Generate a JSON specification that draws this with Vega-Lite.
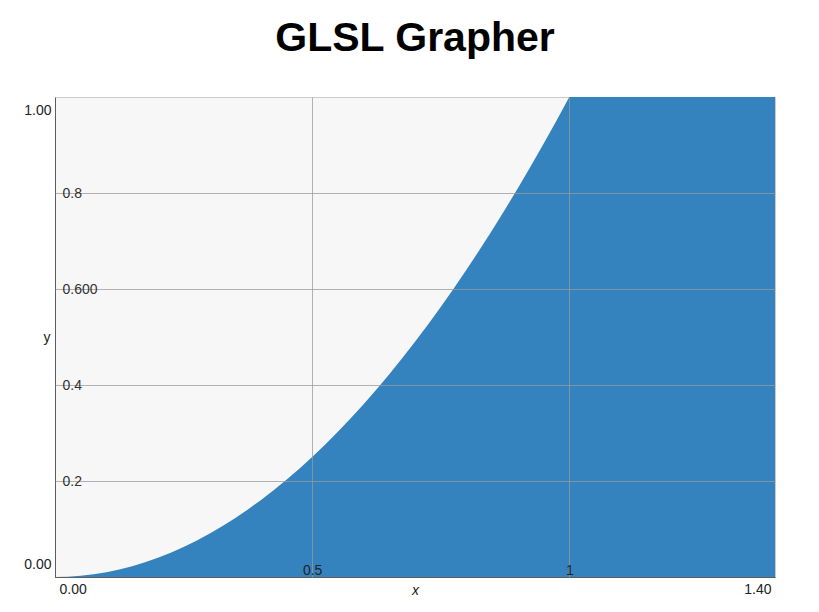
{
  "$schema": "https://vega.github.io/schema/vega-lite/v6.json",
  "autosize": "none",
  "padding": {"left": 55, "top": 97, "right": 44, "bottom": 35},
  "width": 720,
  "height": 480,
  "background": "#ffffff",
  "title": {
    "text": "GLSL Grapher",
    "font": "Liberation Sans",
    "fontSize": 41,
    "fontWeight": "bold",
    "color": "#000000",
    "anchor": "middle",
    "baseline": "alphabetic",
    "offset": 5
  },
  "config": {
    "view": {"fill": "#f7f7f7", "stroke": "#cccccc", "strokeWidth": 1},
    "axis": {
      "zindex": 1,
      "labelFont": "Liberation Sans",
      "titleFont": "Liberation Sans",
      "labelFontSize": 14,
      "titleFontSize": 14,
      "titleFontWeight": "normal",
      "titleColor": "#222222",
      "ticks": false,
      "tickSize": 0,
      "domainColor": "#000000",
      "domainOpacity": 0.55,
      "gridColor": "#999999",
      "gridOpacity": 0.75,
      "gridWidth": 1
    }
  },
  "data": {
    "values": [
      {"x": 0, "y": 0},
      {"x": 0.025, "y": 0.000625},
      {"x": 0.05, "y": 0.0025},
      {"x": 0.075, "y": 0.005625},
      {"x": 0.1, "y": 0.01},
      {"x": 0.125, "y": 0.015625},
      {"x": 0.15, "y": 0.0225},
      {"x": 0.175, "y": 0.030625},
      {"x": 0.2, "y": 0.04},
      {"x": 0.225, "y": 0.050625},
      {"x": 0.25, "y": 0.0625},
      {"x": 0.275, "y": 0.075625},
      {"x": 0.3, "y": 0.09},
      {"x": 0.325, "y": 0.105625},
      {"x": 0.35, "y": 0.1225},
      {"x": 0.375, "y": 0.140625},
      {"x": 0.4, "y": 0.16},
      {"x": 0.425, "y": 0.180625},
      {"x": 0.45, "y": 0.2025},
      {"x": 0.475, "y": 0.225625},
      {"x": 0.5, "y": 0.25},
      {"x": 0.525, "y": 0.275625},
      {"x": 0.55, "y": 0.3025},
      {"x": 0.575, "y": 0.330625},
      {"x": 0.6, "y": 0.36},
      {"x": 0.625, "y": 0.390625},
      {"x": 0.65, "y": 0.4225},
      {"x": 0.675, "y": 0.455625},
      {"x": 0.7, "y": 0.49},
      {"x": 0.725, "y": 0.525625},
      {"x": 0.75, "y": 0.5625},
      {"x": 0.775, "y": 0.600625},
      {"x": 0.8, "y": 0.64},
      {"x": 0.825, "y": 0.680625},
      {"x": 0.85, "y": 0.7225},
      {"x": 0.875, "y": 0.765625},
      {"x": 0.9, "y": 0.81},
      {"x": 0.925, "y": 0.855625},
      {"x": 0.95, "y": 0.9025},
      {"x": 0.975, "y": 0.950625},
      {"x": 1.0, "y": 1},
      {"x": 1.4, "y": 1}
    ]
  },
  "layer": [
    {
      "mark": {"type": "area", "color": "#3483be", "interpolate": "linear", "clip": true},
      "encoding": {
        "x": {
          "field": "x", "type": "quantitative",
          "scale": {"domain": [0, 1.4], "nice": false, "zero": false},
          "axis": {
            "orient": "bottom",
            "zindex": 1,
            "values": [0, 1.4],
            "format": ".2f",
            "labelFlush": true,
            "labelFlushOffset": -4,
            "labelColor": "#222222",
            "labelPadding": 5,
            "grid": false,
            "domain": true,
            "title": "x",
            "titleFontStyle": "italic",
            "titleY": 17,
            "titleBaseline": "alphabetic"
          }
        },
        "y": {
          "field": "y", "type": "quantitative",
          "scale": {"domain": [0, 1], "nice": false, "zero": false},
          "axis": {
            "orient": "left",
            "zindex": 1,
            "values": [0, 1],
            "format": ".2f",
            "labelFlush": true,
            "labelFlushOffset": -6,
            "labelColor": "#222222",
            "labelPadding": 4,
            "grid": false,
            "domain": true,
            "title": "y",
            "titleAngle": 0,
            "titleX": -5,
            "titleY": 240,
            "titleAlign": "right",
            "titleBaseline": "middle"
          }
        }
      }
    },
    {
      "mark": {"type": "area", "opacity": 0},
      "encoding": {
        "x": {
          "field": "x", "type": "quantitative",
          "axis": {
            "orient": "bottom",
            "zindex": 2,
            "values": [0.5, 1],
            "labelExpr": "datum.value == 1 ? '1' : '0.5'",
            "labelColor": "#222222",
            "labelPadding": -3,
            "labelBaseline": "alphabetic",
            "labelFlush": false,
            "grid": true,
            "domain": false,
            "title": null
          }
        },
        "y": {
          "field": "y", "type": "quantitative",
          "axis": {
            "orient": "left",
            "zindex": 2,
            "values": [0.2, 0.4, 0.6, 0.8],
            "labelExpr": "datum.value == 0.6 ? '0.600' : format(datum.value, '.1f')",
            "labelColor": "#333333",
            "labelAlign": "left",
            "labelBaseline": "middle",
            "labelPadding": -7,
            "labelFlush": false,
            "grid": true,
            "domain": false,
            "title": null
          }
        }
      }
    }
  ],
  "resolve": {"axis": {"x": "independent", "y": "independent"}}
}
